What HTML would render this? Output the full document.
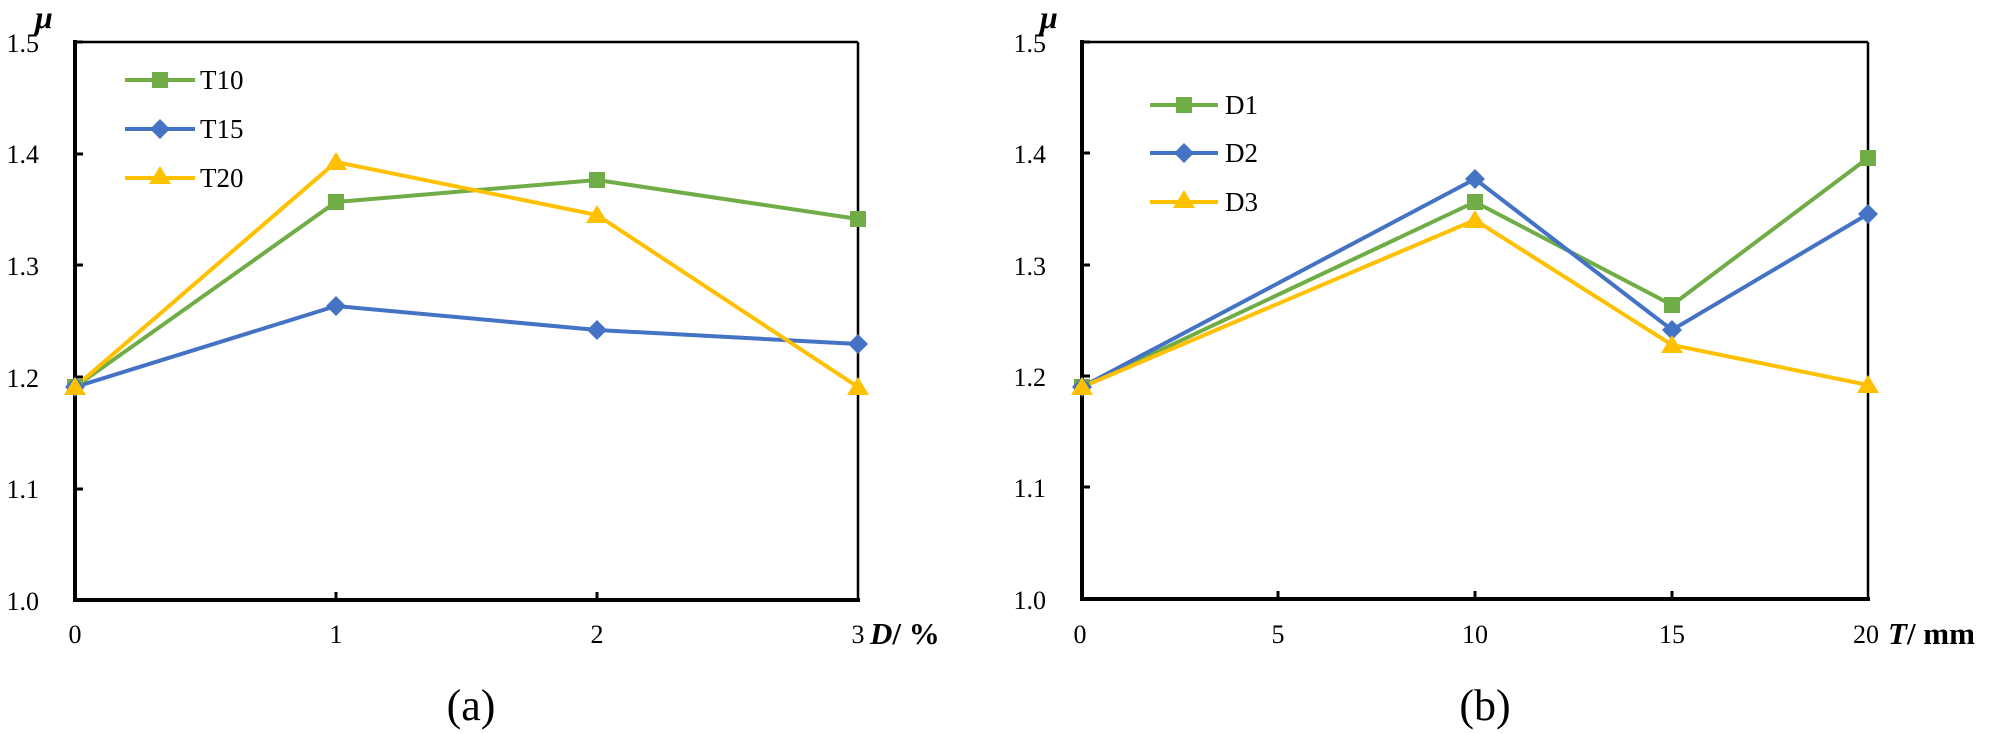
<!DOCTYPE html>
<html><head><meta charset="utf-8"><style>html,body{margin:0;padding:0;background:#fff}svg{display:block}</style></head>
<body>
<svg width="2000" height="734" viewBox="0 0 2000 734" xmlns="http://www.w3.org/2000/svg" font-family="'Liberation Serif', serif">
<defs>
<g id="sq"><rect x="-8" y="-8" width="16" height="16" fill="#70AD47"/></g>
<g id="di"><polygon points="0,-10 10,0 0,10 -10,0" fill="#4472C4"/></g>
<g id="tr"><polygon points="0,-10 11,8 -11,8" fill="#FFC000"/></g>
</defs>
<!-- Chart A -->
<g>
<line x1="75" y1="42" x2="858" y2="42" stroke="#000" stroke-width="2.5"/>
<line x1="858" y1="42" x2="858" y2="600" stroke="#000" stroke-width="2.5"/>
<line x1="75" y1="40" x2="75" y2="602" stroke="#000" stroke-width="4"/>
<line x1="73" y1="600" x2="860" y2="600" stroke="#000" stroke-width="4"/>
<g stroke="#000" stroke-width="3">
<line x1="75" y1="42" x2="83" y2="42"/><line x1="75" y1="154" x2="83" y2="154"/><line x1="75" y1="265" x2="83" y2="265"/><line x1="75" y1="377" x2="83" y2="377"/><line x1="75" y1="489" x2="83" y2="489"/>
<line x1="336" y1="600" x2="336" y2="592"/><line x1="597" y1="600" x2="597" y2="592"/>
</g>
<g font-size="26" text-anchor="end">
<text x="39" y="52">1.5</text><text x="39" y="163">1.4</text><text x="39" y="275">1.3</text><text x="39" y="387">1.2</text><text x="39" y="498">1.1</text><text x="39" y="610">1.0</text>
</g>
<g font-size="26" text-anchor="middle">
<text x="75" y="643">0</text><text x="336" y="643">1</text><text x="597" y="643">2</text><text x="858" y="643">3</text>
</g>
<text x="870" y="644" font-size="31" font-weight="bold"><tspan font-style="italic">D</tspan>/ %</text>
<text x="35" y="28" font-size="32" font-weight="bold" font-style="italic">μ</text>
<text x="471" y="720" font-size="44" text-anchor="middle">(a)</text>
<polyline points="75,387 336,202 597,180 858,219" fill="none" stroke="#70AD47" stroke-width="4"/>
<polyline points="75,387 336,306 597,330 858,344" fill="none" stroke="#4472C4" stroke-width="4"/>
<polyline points="75,387 336,162 597,215 858,387" fill="none" stroke="#FFC000" stroke-width="4"/>
<use href="#sq" x="75" y="387"/><use href="#sq" x="336" y="202"/><use href="#sq" x="597" y="180"/><use href="#sq" x="858" y="219"/>
<use href="#di" x="75" y="387"/><use href="#di" x="336" y="306"/><use href="#di" x="597" y="330"/><use href="#di" x="858" y="344"/>
<use href="#tr" x="75" y="387"/><use href="#tr" x="336" y="162"/><use href="#tr" x="597" y="215"/><use href="#tr" x="858" y="387"/>
<line x1="125" y1="80" x2="195" y2="80" stroke="#70AD47" stroke-width="4"/><use href="#sq" x="160" y="80"/>
<line x1="125" y1="129" x2="195" y2="129" stroke="#4472C4" stroke-width="4"/><use href="#di" x="160" y="129"/>
<line x1="125" y1="178" x2="195" y2="178" stroke="#FFC000" stroke-width="4"/><use href="#tr" x="160" y="176"/>
<g font-size="27"><text x="200" y="89">T10</text><text x="200" y="138">T15</text><text x="200" y="187">T20</text></g>
</g>
<!-- Chart B -->
<g>
<line x1="1082" y1="42" x2="1868" y2="42" stroke="#000" stroke-width="2.5"/>
<line x1="1868" y1="42" x2="1868" y2="600" stroke="#000" stroke-width="2.5"/>
<line x1="1082" y1="40" x2="1082" y2="601" stroke="#000" stroke-width="4"/>
<line x1="1080" y1="599" x2="1870" y2="599" stroke="#000" stroke-width="4"/>
<g stroke="#000" stroke-width="3">
<line x1="1082" y1="42" x2="1090" y2="42"/><line x1="1082" y1="153" x2="1090" y2="153"/><line x1="1082" y1="265" x2="1090" y2="265"/><line x1="1082" y1="376" x2="1090" y2="376"/><line x1="1082" y1="487" x2="1090" y2="487"/>
<line x1="1278" y1="599" x2="1278" y2="591"/><line x1="1475" y1="599" x2="1475" y2="591"/><line x1="1672" y1="599" x2="1672" y2="591"/>
</g>
<g font-size="26" text-anchor="end">
<text x="1046" y="52">1.5</text><text x="1046" y="163">1.4</text><text x="1046" y="275">1.3</text><text x="1046" y="386">1.2</text><text x="1046" y="497">1.1</text><text x="1046" y="609">1.0</text>
</g>
<g font-size="26" text-anchor="middle">
<text x="1080" y="643">0</text><text x="1278" y="643">5</text><text x="1475" y="643">10</text><text x="1672" y="643">15</text><text x="1866" y="643">20</text>
</g>
<text x="1888" y="644" font-size="31" font-weight="bold"><tspan font-style="italic">T</tspan>/ mm</text>
<text x="1040" y="28" font-size="32" font-weight="bold" font-style="italic">μ</text>
<text x="1485" y="720" font-size="44" text-anchor="middle">(b)</text>
<polyline points="1082,387 1475,202 1672,305 1868,158" fill="none" stroke="#70AD47" stroke-width="4"/>
<polyline points="1082,387 1475,179 1672,330 1868,214" fill="none" stroke="#4472C4" stroke-width="4"/>
<polyline points="1082,387 1475,220 1672,345 1868,385" fill="none" stroke="#FFC000" stroke-width="4"/>
<use href="#sq" x="1082" y="387"/><use href="#sq" x="1475" y="202"/><use href="#sq" x="1672" y="305"/><use href="#sq" x="1868" y="158"/>
<use href="#di" x="1082" y="387"/><use href="#di" x="1475" y="179"/><use href="#di" x="1672" y="330"/><use href="#di" x="1868" y="214"/>
<use href="#tr" x="1082" y="387"/><use href="#tr" x="1475" y="220"/><use href="#tr" x="1672" y="345"/><use href="#tr" x="1868" y="385"/>
<line x1="1150" y1="105" x2="1218" y2="105" stroke="#70AD47" stroke-width="4"/><use href="#sq" x="1184" y="105"/>
<line x1="1150" y1="153" x2="1218" y2="153" stroke="#4472C4" stroke-width="4"/><use href="#di" x="1184" y="153"/>
<line x1="1150" y1="202" x2="1218" y2="202" stroke="#FFC000" stroke-width="4"/><use href="#tr" x="1184" y="200"/>
<g font-size="27"><text x="1225" y="114">D1</text><text x="1225" y="162">D2</text><text x="1225" y="211">D3</text></g>
</g>
</svg>
</body></html>
